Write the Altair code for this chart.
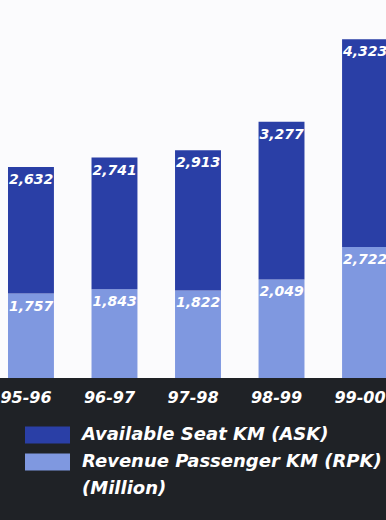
import altair as alt
import pandas as pd

years = ["95-96", "96-97", "97-98", "98-99", "99-00"]
ask = [2632, 2741, 2913, 3277, 4323]
rpk = [1757, 1843, 1822, 2049, 2722]
series_names = ["Available Seat KM (ASK)", "Revenue Passenger KM (RPK)"]
unit_note = ["(Million)"]

rows = []
for y, a, r in zip(years, ask, rpk):
    rows.append({"year": y, "series": series_names[1], "value": r, "ord": 0})
    rows.append({"year": y, "series": series_names[0], "value": a, "ord": 1})
df = pd.DataFrame(rows)
cat_df = pd.DataFrame({"year": years})
note_df = pd.DataFrame({"note": unit_note})

DARK = "#2a3fa6"
LIGHT = "#7f98e0"
BAND = "#1f2226"
FONT = "DejaVu Sans"

xscale = alt.Scale(domain=years, range=[8, 388], paddingInner=0.45, paddingOuter=0)
yscale = alt.Scale(domain=[0, 7860], range=[378, 0])

base = alt.Chart(df).transform_stack(
    stack="value", groupby=["year"], as_=["v0", "v1"], sort=[alt.SortField("ord", order="ascending")]
)

bars = base.mark_bar(stroke=None).encode(
    x=alt.X("year:N", scale=xscale, axis=None, sort=years),
    y=alt.Y("v0:Q", scale=yscale, axis=None),
    y2="v1:Q",
    color=alt.Color(
        "series:N",
        scale=alt.Scale(domain=series_names, range=[DARK, LIGHT]),
        legend=alt.Legend(
            orient="none", legendX=38.5, legendY=426, title=None,
            symbolType="M-2.5,-0.95H2.5V0.95H-2.5Z", symbolSize=324,
            symbolStrokeWidth=0, symbolOpacity=1,
            labelFont=FONT, labelFontSize=18, labelFontStyle="italic",
            labelFontWeight="bold", labelColor="white", labelOffset=25.5,
            rowPadding=9, labelLimit=400, padding=0,
        ),
    ),
)

labels = base.mark_text(
    align="left", baseline="top", dx=-22, dy=6, color="white",
    font=FONT, fontSize=14, fontStyle="italic", fontWeight="bold",
).encode(
    x=alt.X("year:N", scale=xscale, axis=None, sort=years),
    y=alt.Y("v1:Q", scale=yscale, axis=None),
    text=alt.Text("value:Q", format=","),
)

band = alt.Chart(cat_df).mark_rect(color=BAND).encode(
    x=alt.value(0), x2=alt.value(386), y=alt.value(378), y2=alt.value(520)
)

cats = alt.Chart(cat_df).mark_text(
    baseline="middle", color="white", font=FONT, fontSize=16,
    fontStyle="italic", fontWeight="bold", dx=-5,
).encode(
    x=alt.X("year:N", scale=xscale, axis=None, sort=years),
    y=alt.value(398),
    text="year:N",
)

note = alt.Chart(note_df).mark_text(
    align="left", baseline="middle", color="white", font=FONT, fontSize=18,
    fontStyle="italic", fontWeight="bold",
).encode(x=alt.value(82), y=alt.value(489), text="note:N")

chart = alt.layer(bars, labels, band, cats, note).properties(
    width=386, height=520, padding=0, autosize=alt.AutoSizeParams(type="none"),
    background="#fbfbfd",
).configure_view(stroke=None)

chart.save("out.html", embed_options={"renderer": "svg", "actions": False})
